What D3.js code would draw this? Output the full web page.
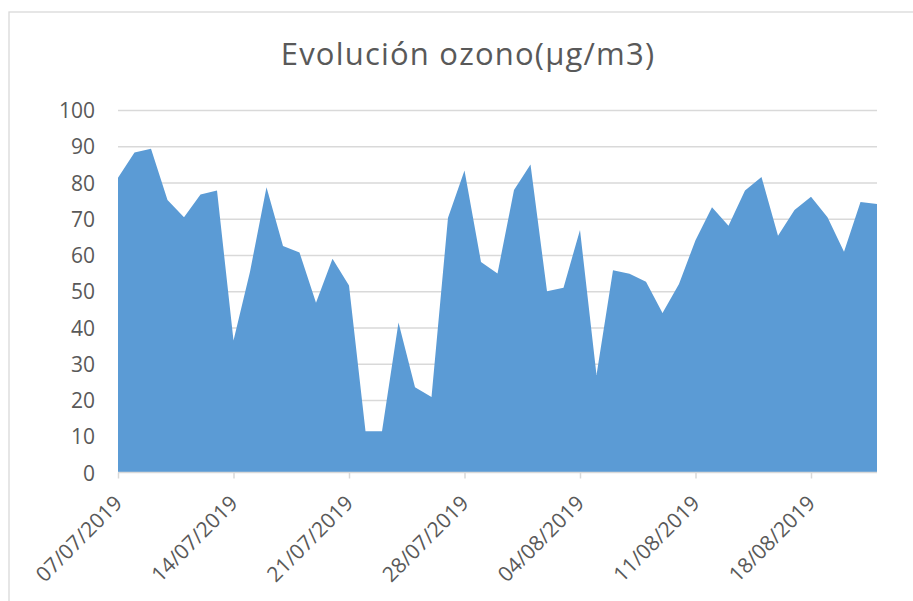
<!DOCTYPE html>
<html>
<head>
<meta charset="utf-8">
<script src="https://cdn.jsdelivr.net/npm/d3@7"></script>
<style>
  body { margin: 0; background: #fff; }
  svg text { font-family: "Open Sans", "Noto Sans", sans-serif; fill: #595959; }
</style>
</head>
<body>
<div id="chart"></div>
<script>
const TITLE = "Evolución ozono(µg/m3)"

const dates = [
  "07/07/2019", "08/07/2019", "09/07/2019", "10/07/2019", "11/07/2019", "12/07/2019", "13/07/2019",
  "14/07/2019", "15/07/2019", "16/07/2019", "17/07/2019", "18/07/2019", "19/07/2019", "20/07/2019",
  "21/07/2019", "22/07/2019", "23/07/2019", "24/07/2019", "25/07/2019", "26/07/2019", "27/07/2019",
  "28/07/2019", "29/07/2019", "30/07/2019", "31/07/2019", "01/08/2019", "02/08/2019", "03/08/2019",
  "04/08/2019", "05/08/2019", "06/08/2019", "07/08/2019", "08/08/2019", "09/08/2019", "10/08/2019",
  "11/08/2019", "12/08/2019", "13/08/2019", "14/08/2019", "15/08/2019", "16/08/2019", "17/08/2019",
  "18/08/2019", "19/08/2019", "20/08/2019", "21/08/2019", "22/08/2019"
]

const ozone = [
  81.3, 88.3, 89.3, 75.2, 70.4, 76.7, 77.8,
  36.4, 55.4, 78.7, 62.5, 60.7, 46.8, 59.0,
  51.6, 11.4, 11.4, 41.4, 23.5, 20.8, 70.3,
  83.3, 58.1, 54.9, 77.9, 85.0, 50.0, 51.0,
  66.9, 26.9, 55.8, 54.8, 52.6, 44.0, 52.0,
  64.1, 73.2, 68.1, 77.8, 81.5, 65.3, 72.4,
  76.1, 70.4, 60.9, 74.6, 74.1
]

const xTickLabels = ["07/07/2019", "14/07/2019", "21/07/2019", "28/07/2019", "04/08/2019", "11/08/2019", "18/08/2019"]
const yTicks = [0, 10, 20, 30, 40, 50, 60, 70, 80, 90, 100]

const W = 913, H = 601
const PLOT = { left: 118, right: 877, top: 110, bottom: 472.5 }

const parseDate = d3.timeParse("%d/%m/%Y")
const data = dates.map((d, i) => ({ date: parseDate(d), value: ozone[i] }))

const svg = d3.select("#chart").append("svg")
  .attr("width", W)
  .attr("height", H)

// chart frame
svg.append("rect")
  .attr("x", 9).attr("y", 12)
  .attr("width", W).attr("height", H)
  .attr("fill", "none")
  .attr("stroke", "#d9d9d9")
  .attr("stroke-width", 1.3)

svg.append("text")
  .attr("x", 468)
  .attr("y", 65)
  .attr("text-anchor", "middle")
  .style("font-size", "31px")
  .style("letter-spacing", "1.2px")
  .text(TITLE)

// SCALES ----------------------
const x = d3.scaleTime()
  .domain(d3.extent(data, d => d.date))
  .range([PLOT.left, PLOT.right])

const y = d3.scaleLinear()
  .domain([0, 100])
  .range([PLOT.bottom, PLOT.top])

// GRID ------------------------
const gGrid = svg.append("g")
  .attr("transform", `translate(${PLOT.left},0)`)
  .call(d3.axisLeft(y).tickValues(yTicks.slice(1)).tickSize(-(PLOT.right - PLOT.left)).tickFormat(""))
gGrid.select(".domain").remove()
gGrid.selectAll("line").attr("stroke", "#d9d9d9").attr("stroke-width", 1.5)

// AREA ------------------------
const area = d3.area()
  .x(d => x(d.date))
  .y0(y(0))
  .y1(d => y(d.value))

svg.append("path")
  .datum(data)
  .attr("d", area)
  .attr("fill", "#5b9bd5")

// AXES ------------------------
const gY = svg.append("g")
  .attr("transform", `translate(${PLOT.left - 23},0)`)
  .call(d3.axisLeft(y).tickValues(yTicks).tickSize(0).tickPadding(0))
gY.select(".domain").remove()
gY.selectAll("text").style("font-size", "21px").attr("dy", "0.36em")

const gX = svg.append("g")
  .attr("transform", `translate(0,${PLOT.bottom})`)
  .call(d3.axisBottom(x).tickValues(xTickLabels.map(parseDate)).tickSize(6).tickFormat(d3.timeFormat("%d/%m/%Y")))
gX.select(".domain")
  .attr("d", `M${PLOT.left},0H${PLOT.right}`)
  .attr("stroke", "#d9d9d9")
  .attr("stroke-width", 1.5)
gX.selectAll(".tick line").attr("stroke", "#d9d9d9").attr("stroke-width", 1.5)
gX.selectAll("text")
  .style("font-size", "21px")
  .attr("text-anchor", "end")
  .attr("dy", 0)
  .attr("transform", "translate(5,32) rotate(-45)")
  .attr("y", 0)
  .attr("x", 0)
</script>
</body>
</html>
